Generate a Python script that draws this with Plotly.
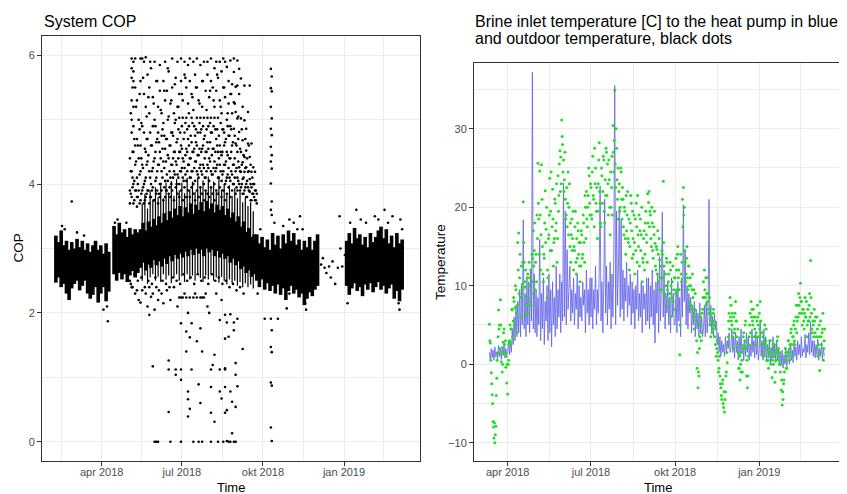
import pandas as pd
import plotly.graph_objects as go

BASE = pd.Timestamp("2018-01-01")  # day 0 for the day-number lists below

# ---------------- Left panel: System COP ----------------
# dense band of readings: per-day lower / upper edge (day number from 2018-01-01)
cop_band_day = [38, 41, 44, 47, 50, 53, 56, 59, 62, 65, 68, 71, 74, 77, 80, 83, 86, 89, 92, 95, 98,
                104, 107, 110, 113, 116, 119, 122, 125, 128, 131,
                134, 137, 140, 143, 146, 149, 152, 155, 158, 161, 164, 167, 170, 173, 176, 179, 182, 185,
                188, 191, 194, 197, 200, 203, 206, 209, 212, 215, 218, 221, 224, 227, 230, 233, 236, 239,
                242, 245, 248, 251, 254, 257, 260, 263,
                266, 269, 272, 275, 278, 281, 284, 287, 290, 293, 296, 299, 302, 305, 308, 311, 314, 317,
                320, 323, 326, 329, 332, 335,
                368, 371, 374, 377, 380, 383, 386, 389, 392, 395, 398, 401, 404, 407, 410, 413, 416, 419,
                422, 425, 428, 431]
cop_band_lo = [2.47, 2.55, 2.4, 2.45, 2.3, 2.2, 2.38, 2.45, 2.5, 2.35, 2.42, 2.5, 2.3, 2.22, 2.28, 2.4, 2.16, 2.3, 2.4, 2.18, 2.33,
               2.6, 2.5, 2.62, 2.52, 2.6, 2.48, 2.58, 2.65, 2.55, 2.62,
               2.7, 2.78, 2.66, 2.75, 2.7, 2.82, 2.74, 2.8, 2.72, 2.84, 2.76, 2.88, 2.8, 2.9, 2.84, 2.92, 2.86, 2.95,
               2.88, 2.98, 2.9, 3.0, 2.92, 2.98, 2.88, 3.0, 2.94, 2.98, 2.88, 2.96, 2.86, 2.92, 2.84, 2.88, 2.78, 2.84,
               2.74, 2.8, 2.68, 2.72, 2.62, 2.66, 2.56, 2.6,
               2.5, 2.4, 2.52, 2.36, 2.46, 2.34, 2.42, 2.3, 2.44, 2.28, 2.38, 2.2, 2.34, 2.42, 2.3, 2.36, 2.24, 2.3,
               2.12, 2.22, 2.32, 2.26, 2.36, 2.42,
               2.42, 2.28, 2.38, 2.46, 2.34, 2.4, 2.26, 2.44, 2.36, 2.46, 2.32, 2.4, 2.48, 2.36, 2.42, 2.3, 2.38, 2.44,
               2.22, 2.34, 2.18, 2.36]
cop_band_hi = [3.2, 3.1, 3.28, 3.05, 3.12, 2.98, 3.1, 3.0, 3.15, 3.02, 3.12, 2.98, 3.08, 2.95, 3.05, 3.12, 2.98, 3.05, 2.92, 3.08, 2.95,
               3.35, 3.22, 3.4, 3.25, 3.3, 3.18, 3.32, 3.22, 3.3, 3.25,
               3.3, 3.4, 3.28, 3.42, 3.34, 3.46, 3.36, 3.5, 3.4, 3.55, 3.44, 3.58, 3.48, 3.62, 3.52, 3.66, 3.5, 3.64,
               3.56, 3.7, 3.54, 3.68, 3.6, 3.72, 3.58, 3.74, 3.62, 3.7, 3.56, 3.68, 3.6, 3.66, 3.52, 3.62, 3.48, 3.56,
               3.42, 3.5, 3.34, 3.42, 3.26, 3.32, 3.18, 3.22,
               3.22, 3.08, 3.18, 3.02, 3.14, 2.98, 3.24, 3.06, 3.2, 3.0, 3.22, 3.08, 3.28, 3.12, 3.24, 3.06, 3.14, 2.98,
               3.12, 3.02, 3.18, 2.98, 3.12, 3.22,
               3.12, 3.24, 3.08, 3.32, 3.16, 3.22, 3.06, 3.18, 3.02, 3.24, 3.1, 3.18, 3.28, 3.34, 3.16, 3.3, 3.08, 3.2,
               3.02, 3.24, 3.08, 3.14]

# looser summer spread of readings around the band
cop_spread_day = [136, 139, 142, 145, 148, 151, 154, 157, 160, 163, 166, 169, 172, 175, 178, 181, 184, 187,
                  190, 193, 196, 199, 202, 205, 208, 211, 214, 217, 220, 223, 226, 229, 232, 235, 238, 241,
                  244, 247, 250, 253, 256, 259, 262]
cop_spread_lo = [2.5, 2.58, 2.45, 2.55, 2.6, 2.5, 2.56, 2.48, 2.6, 2.52, 2.58, 2.46, 2.55, 2.6, 2.5, 2.57, 2.48, 2.6,
                 2.52, 2.58, 2.5, 2.6, 2.54, 2.48, 2.58, 2.52, 2.6, 2.5, 2.55, 2.47, 2.56, 2.5, 2.44, 2.52, 2.46, 2.5,
                 2.42, 2.48, 2.4, 2.46, 2.4, 2.44, 2.38]
cop_spread_hi = [3.7, 3.85, 3.62, 3.9, 3.75, 3.95, 3.8, 3.98, 3.78, 4.02, 3.85, 4.05, 3.82, 4.08, 3.9, 4.02, 3.86, 4.1,
                 3.92, 4.04, 3.88, 4.1, 3.94, 4.06, 3.9, 4.12, 3.95, 4.04, 3.88, 4.08, 3.92, 4.0, 3.86, 3.98, 3.82, 3.94,
                 3.78, 3.88, 3.72, 3.8, 3.66, 3.72, 3.58]

# scattered summer readings (one row of COP values per day), even days
cop_cloud_day = list(range(122, 267, 2))
cop_cloud_vals = [
    [4.4, 3.9, 3.7, 2.5],
    [5.95, 5.8, 5.65, 5.3, 5.0, 4.8, 4.2, 3.8, 2.4],
    [5.9, 5.75, 5.6, 5.2, 4.9, 4.5, 4.0, 3.7],
    [5.95, 5.5, 4.6, 4.3, 3.9, 2.3],
    [5.3, 4.7, 4.1, 3.8, 3.65],
    [5.0, 4.4, 3.9, 2.2],
    [5.95, 5.6, 4.6, 4.2, 3.75, 2.16],
    [5.95, 4.9, 4.3, 3.9, 2.35],
    [5.9, 5.4, 4.8, 4.0, 3.7],
    [5.97, 5.2, 4.5, 4.1, 3.8, 2.3],
    [5.7, 4.7, 4.35, 3.9, 2.1],
    [5.5, 5.1, 4.2, 3.7, 1.97, 2.4],
    [5.8, 4.6, 4.0, 3.8, 2.25],
    [5.35, 4.9, 4.25, 3.95, 1.17, 2.3],
    [5.9, 5.0, 4.4, 3.75, 0.0, 2.05],
    [5.6, 4.65, 4.1, 3.85, 0.0, 2.4],
    [5.2, 4.8, 4.3, 3.7, 0.0, 2.2],
    [5.85, 5.45, 4.5, 4.0, 3.8],
    [5.1, 4.75, 4.2, 3.9, 2.3],
    [5.6, 4.95, 4.35, 3.75, 2.15],
    [5.9, 5.3, 4.55, 4.05, 3.8],
    [5.45, 4.7, 4.15, 3.9, 2.35],
    [5.75, 5.05, 4.4, 3.85, 1.26, 1.12, 0.46],
    [5.25, 4.6, 4.1, 3.8, 0.0, 2.2],
    [5.95, 5.5, 4.8, 4.3, 3.9],
    [5.1, 4.5, 4.2, 3.75, 2.4],
    [5.65, 5.0, 4.35, 3.95, 1.04, 1.12],
    [5.9, 5.2, 4.7, 4.15, 3.85, 2.1],
    [5.4, 5.03, 4.5, 4.0, 3.8, 2.24],
    [5.95, 5.6, 4.6, 4.2, 3.9, 1.84, 1.12, 0.96, 0.0, 2.24],
    [5.3, 5.03, 4.4, 4.1, 3.75, 2.24],
    [5.9, 5.7, 4.8, 4.25, 3.95, 2.3],
    [5.5, 5.03, 4.55, 4.05, 3.8, 1.71, 1.4, 2.24],
    [5.85, 5.25, 4.7, 4.3, 3.9, 0.78, 0.66, 0.39, 2.0],
    [5.95, 5.6, 4.4, 4.1, 3.8, 0.51, 1.62, 2.24],
    [5.4, 5.03, 4.65, 4.2, 3.95, 1.84, 1.12],
    [5.9, 5.15, 4.5, 4.0, 3.85, 0.0, 2.24],
    [5.7, 4.75, 4.35, 4.05, 3.75, 2.3],
    [5.95, 5.5, 5.03, 4.6, 4.2, 3.9, 1.56, 2.24],
    [5.3, 4.45, 4.1, 3.8, 0.89, 0.0],
    [5.85, 5.03, 4.8, 4.3, 3.95, 1.76, 0.6, 2.24],
    [5.6, 5.2, 4.55, 4.15, 3.85, 1.4, 0.0, 2.24],
    [5.9, 5.03, 4.7, 4.25, 4.0, 3.75, 2.24],
    [5.45, 4.5, 4.1, 3.9, 2.3],
    [5.9, 5.7, 5.03, 4.65, 4.3, 3.85, 2.1],
    [5.35, 4.4, 4.05, 3.8, 2.0],
    [5.95, 5.6, 5.03, 4.8, 4.2, 3.95, 0.85, 0.45, 1.12, 0.0],
    [5.5, 4.55, 4.15, 3.85, 1.19],
    [5.8, 5.2, 5.03, 4.35, 4.0, 3.75, 1.35, 0.31],
    [5.9, 5.45, 4.7, 4.25, 3.9, 2.3],
    [5.65, 5.03, 4.5, 4.1, 3.85, 0.0],
    [5.9, 5.3, 4.6, 4.3, 3.95, 1.89, 1.12, 0.78],
    [5.75, 5.1, 4.45, 4.05, 3.8, 0.67, 2.2],
    [5.95, 5.5, 4.85, 4.2, 3.9, 0.0],
    [5.9, 5.35, 4.65, 4.3, 4.0, 3.75, 1.97, 1.6, 0.85, 0.45, 1.12, 1.14],
    [5.82, 5.0, 4.5, 4.1, 3.85, 1.85, 0.49, 0.01],
    [5.6, 5.25, 4.75, 4.25, 3.95, 1.63, 0.0],
    [5.92, 5.4, 4.9, 4.4, 4.05, 3.8, 1.98, 0.78, 0.0],
    [5.55, 5.1, 4.6, 4.15, 3.9, 0.62, 0.13],
    [5.95, 5.74, 5.27, 4.86, 4.3, 4.0, 1.85, 1.73, 0.0],
    [5.51, 5.12, 4.63, 4.2, 3.85, 1.22, 1.04, 0.54, 0.0],
    [5.92, 5.53, 5.02, 4.5, 4.1, 3.9, 1.91, 0.86],
    [5.79, 5.4, 4.81, 4.26, 4.0],
    [5.64, 5.02, 4.5, 4.19, 3.95],
    [5.2, 4.68, 4.34, 4.08, 3.85, 1.44],
    [5.53, 4.99, 4.42, 4.19, 3.9],
    [4.86, 4.52, 4.26, 4.0, 3.8],
    [5.12, 4.63, 4.19, 3.95],
    [5.53, 4.42, 4.08, 3.88],
    [4.63, 4.19, 3.95, 3.75],
    [4.26, 4.0, 3.85],
    [4.19, 3.9, 3.75],
    [3.85, 3.7],
]

# scattered summer readings, odd days
cop_cloud2_day = list(range(123, 266, 2))
cop_cloud2_vals = [
    [4.2, 3.85, 5.1, 2.45], [4.5, 3.95, 5.5, 4.1], [4.05, 3.75, 4.7, 2.6], [4.35, 3.9, 5.2],
    [4.6, 4.0, 3.8, 2.5], [4.15, 3.7, 5.4, 4.85], [4.4, 3.85, 4.95, 2.55], [4.25, 3.95, 5.65],
    [4.55, 4.05, 3.75, 2.4], [4.3, 3.85, 5.05, 4.7], [4.45, 3.9, 5.35, 2.5], [4.1, 3.8, 4.8, 5.9],
    [4.6, 4.2, 3.9, 2.45], [4.35, 3.75, 5.25], [4.5, 4.05, 4.9, 2.55], [4.2, 3.9, 5.6, 4.7],
    [4.65, 4.3, 3.85, 2.35], [4.4, 4.0, 5.15], [4.55, 4.1, 4.85, 2.5], [4.25, 3.95, 5.45, 4.75],
    [4.7, 4.35, 3.9, 2.45], [4.45, 4.05, 5.0, 5.8], [4.6, 4.2, 3.95, 2.4], [4.3, 4.0, 5.3, 4.8],
    [4.75, 4.4, 4.1, 2.55], [4.5, 4.15, 5.55, 4.95], [4.65, 4.3, 4.0, 2.5], [4.4, 4.1, 5.2, 4.85],
    [4.8, 4.5, 4.2, 2.45], [4.55, 4.25, 5.4, 4.9], [4.7, 4.35, 4.05, 2.6], [4.45, 4.15, 5.65, 4.95],
    [4.85, 4.5, 4.2, 2.5], [4.6, 4.3, 5.1, 4.9], [4.75, 4.4, 4.1, 2.55], [4.5, 4.2, 5.35, 4.95],
    [4.9, 4.55, 4.25, 2.45], [4.65, 4.35, 5.5, 4.85], [4.8, 4.45, 4.15, 2.6], [4.55, 4.25, 5.25, 4.95],
    [4.85, 4.5, 4.2, 2.5], [4.6, 4.3, 5.6, 4.9], [4.75, 4.4, 4.1, 2.55], [4.5, 4.2, 5.15, 4.85],
    [4.9, 4.55, 4.25, 2.45], [4.65, 4.35, 5.45, 4.95], [4.8, 4.45, 4.15, 2.6], [4.55, 4.25, 5.3, 4.9],
    [4.85, 4.5, 4.2, 2.5], [4.6, 4.3, 5.7, 4.85], [4.75, 4.4, 4.1, 2.55], [4.5, 4.2, 5.2, 4.95],
    [4.85, 4.5, 4.15, 2.45], [4.6, 4.3, 5.5, 4.8], [4.7, 4.35, 4.05, 2.5], [4.45, 4.15, 5.1, 4.9],
    [4.75, 4.4, 4.1, 2.4], [4.5, 4.2, 5.4, 4.85], [4.65, 4.3, 4.0, 2.45], [4.4, 4.1, 5.25, 4.75],
    [4.6, 4.25, 3.95, 2.35], [4.35, 4.05, 5.05, 4.7], [4.55, 4.2, 3.9, 2.4], [4.3, 4.0, 4.85],
    [4.45, 4.1, 3.85, 2.3], [4.25, 3.95, 4.7], [4.4, 4.05, 3.8], [4.2, 3.9, 4.6],
    [4.3, 4.0, 3.75], [4.1, 3.85], [4.0, 3.8], [3.9, 3.75],
]

# other single readings (day number, COP)
cop_extra_day = [45, 48, 56, 62, 70, 92, 96, 97, 105, 108, 118, 125, 130,
                 282, 283, 282, 283, 282, 283, 282, 283, 282, 283, 282, 283, 282, 283, 282, 283,
                 282, 283, 282, 283, 282, 283, 282, 283, 275, 290,
                 267, 270, 286, 296, 300, 303, 303, 308, 312, 315, 318, 321, 322,
                 339, 341, 343, 345, 348, 350, 352, 355, 358, 360, 361, 363, 366,
                 369, 372, 379, 384, 390, 400, 404, 411, 415, 420, 427, 428, 429, 431]
cop_extra_val = [3.35, 3.3, 3.73, 3.25, 3.2, 2.05, 2.1, 1.87, 3.4, 3.45, 3.4, 2.4, 2.35,
                 5.79, 5.67, 5.49, 5.44, 5.2, 5.02, 4.86, 4.76, 4.58, 4.45, 4.35, 4.24, 4.01, 3.73, 3.6, 3.52,
                 1.91, 1.73, 1.47, 1.39, 0.92, 0.87, 0.22, 0.01, 1.91, 1.91,
                 2.3, 3.3, 3.4, 3.35, 2.07, 2.3, 3.45, 3.4, 3.3, 3.5, 3.3, 2.15, 2.05,
                 2.75, 2.85, 2.7, 2.62, 2.72, 2.55, 2.8, 2.45, 2.7, 3.5, 3.0, 2.72, 2.9,
                 2.15, 3.4, 3.6, 3.45, 3.4, 3.5, 3.45, 3.6, 3.4, 3.5, 2.15, 2.05, 3.45, 3.3]

# ---------------- Right panel: temperatures (daily, from 2018-03-12) ----------------
temp_start = "2018-03-12"
# outdoor temperature, first reading of each day
outdoor_2018_03 = [5.1, 2.7, -1.1, -3.9, -7.3, -9.4, -10.0, -7.9, -1.8, 1.4, 6.9, 5.0, 8.2, 0.3, -1.0, 2.8, 4.5, 1.5, -0.4, -2.4]
outdoor_2018_04 = [-3.8, 0.5, 3.0, 2.7, 4.5, 6.9, 5.5, 8.0, 7.2, 9.5, 4.0, 15.5, 16.7, 11.0, 8.5, 12.5, 10.2, 20.7, 13.0, 9.8,
                   6.5, 7.5, 11.5, 10.0, 8.0, 12.0, 9.0, 13.5, 17.0, 14.5]
outdoor_2018_05 = [9.5, 14.0, 19.0, 25.6, 18.5, 24.6, 12.0, 25.4, 15.0, 10.5, 13.5, 22.1, 17.2, 8.5, 11.0, 16.5, 23.7, 19.5,
                   14.5, 22.3, 12.5, 16.0, 20.5, 18.0, 13.0, 24.0, 21.5, 27.2, 26.4, 31.1, 28.0]
outdoor_2018_06 = [26.0, 23.5, 21.0, 19.0, 17.5, 24.5, 20.0, 15.0, 13.0, 18.5, 16.0, 12.0, 14.5, 19.5, 11.5, 13.5, 17.0, 15.5,
                   10.5, 12.5, 16.5, 14.0, 18.0, 13.0, 20.0, 22.0, 17.5, 21.5, 24.0, 19.0]
outdoor_2018_07 = [22.5, 18.5, 26.5, 21.0, 27.5, 25.0, 19.5, 16.0, 23.0, 28.2, 20.5, 17.5, 24.0, 22.0, 26.0, 18.0, 21.5, 27.0,
                   25.5, 19.0, 23.5, 16.5, 20.0, 26.5, 30.4, 24.5, 34.9, 22.5, 27.5, 21.0, 18.5]
outdoor_2018_08 = [23.0, 20.0, 24.5, 18.5, 21.0, 16.5, 19.5, 14.0, 17.0, 22.0, 15.5, 12.0, 18.0, 20.5, 13.5, 16.0, 19.0, 11.5,
                   14.5, 17.5, 21.5, 15.0, 12.5, 18.5, 16.5, 10.5, 13.0, 17.0, 14.0, 19.5, 15.5]
outdoor_2018_09 = [21.7, 20.6, 17.5, 19.0, 15.0, 18.0, 13.5, 16.5, 15.4, 12.0, 14.6, 17.0, 10.5, 13.3, 11.0, 9.5, 14.0, 23.3,
                   12.5, 8.5, 10.0, 13.0, 7.3, 11.5, 9.0, 12.0, 6.1, 10.5, 8.0, 11.0]
outdoor_2018_10 = [11.0, 13.5, 9.5, 15.0, 12.0, 1.2, 14.0, 10.5, 21.0, 22.5, 20.0, 13.0, 11.5, 15.0, 9.5, 12.5, 8.0, 10.0,
                   7.0, 11.5, 6.5, 4.5, 9.0, 5.5, -0.5, -3.0, -1.5, 3.5, 6.0, 4.0, 7.0]
outdoor_2018_11 = [10.5, 12.0, 8.5, 7.6, 11.0, 9.0, 6.5, 5.0, 3.5, 6.0, 4.5, 7.0, 5.5, 2.5, 1.0, 3.0, 0.5, -0.5,
                   -1.5, -3.0, -4.5, -2.0, -5.5, -6.1, -3.5, -1.0, 0.2, 3.5, 6.5, 8.5]
outdoor_2018_12 = [7.5, 5.0, 3.5, 6.0, 4.5, 8.0, 5.5, 2.5, 1.5, -0.5, -2.0, -1.0, 0.5, 2.0, 4.0, 3.0, 5.5, -1.5,
                   -3.0, 1.0, 3.5, 6.5, 8.0, 7.0, 5.0, 6.0, 4.5, 2.5, 3.5, 7.5, 5.0]
outdoor_2019_01 = [6.5, 8.0, 4.0, 2.5, 3.5, 1.0, 5.0, 3.0, 0.5, 2.0, -0.5, 1.5, 3.0, 0.0, -1.7, 2.5, 1.0, -2.3,
                   0.5, 1.8, 3.5, 2.0, 0.0, -1.0, -3.3, -5.2, -4.5, -2.0, 0.5, 1.5, -0.5]
outdoor_2019_02 = [1.5, 3.0, 0.5, 2.0, 4.5, 1.0, 3.5, 5.5, 2.5, 6.0, 4.0, 7.5, 9.0, 6.5, 10.3, 8.0, 5.0, 7.0,
                   4.5, 8.5, 6.0, 3.5, 7.0, 5.5, 9.0, 13.2, 6.5, 4.0]
outdoor_2019_03 = [5.0, 7.0, 4.0, 2.0, 6.0, 1.0, 3.5, -0.8, 5.5, 2.5, 4.5, 0.5, 3.0]

# outdoor temperature, second reading of each day (midday)
outdoor2_2018_03 = [3.0, 0.5, -2.5, -5.0, -8.0, -7.5, -9.0, -4.0, 0.5, 3.5, 4.5, 2.0, 5.0, 1.5, 0.0, 4.0, 2.5, 3.0, 1.0, 0.0]
outdoor2_2018_04 = [0.0, 2.5, 5.0, 4.5, 7.0, 3.5, 8.5, 5.0, 10.0, 6.5, 7.5, 12.0, 9.0, 14.0, 6.0, 9.5, 13.0, 15.5, 10.5, 12.0,
                    8.5, 11.0, 6.5, 13.0, 11.0, 7.5, 14.0, 10.5, 12.5, 18.0]
outdoor2_2018_05 = [13.0, 10.5, 16.0, 20.5, 14.0, 19.0, 16.5, 21.0, 11.5, 14.0, 18.0, 15.5, 20.0, 12.0, 16.0, 19.0, 14.5, 24.5,
                    17.5, 18.5, 15.5, 21.0, 17.0, 23.0, 16.0, 19.5, 25.5, 22.0, 23.0, 29.0, 24.5]
outdoor2_2018_06 = [22.0, 27.0, 18.5, 22.5, 20.5, 16.5, 23.0, 18.0, 16.5, 14.5, 19.5, 15.0, 17.5, 13.0, 16.0, 18.0, 14.0, 12.5,
                    15.5, 17.0, 13.5, 19.0, 15.5, 21.5, 16.0, 18.5, 20.0, 25.0, 20.5, 23.0]
outdoor2_2018_07 = [19.0, 24.5, 21.5, 17.5, 23.0, 20.5, 22.5, 19.5, 26.0, 22.0, 18.0, 25.0, 20.5, 26.5, 19.5, 23.5, 27.5, 21.5,
                    23.0, 26.0, 20.0, 24.5, 22.5, 19.0, 27.0, 28.5, 25.5, 30.0, 23.5, 25.0, 22.0]
outdoor2_2018_08 = [19.5, 25.0, 21.0, 22.5, 17.5, 20.0, 16.0, 21.5, 19.0, 16.0, 18.5, 15.0, 21.5, 17.0, 19.5, 14.0, 15.5, 18.5,
                    20.5, 13.0, 16.5, 19.0, 17.0, 14.5, 20.0, 13.5, 16.0, 12.0, 18.0, 16.5, 13.0]
outdoor2_2018_09 = [18.0, 22.0, 19.5, 16.0, 20.0, 14.5, 17.5, 19.5, 12.5, 15.0, 11.5, 14.0, 16.0, 9.5, 12.5, 14.5, 11.0, 15.5,
                    9.0, 11.5, 13.5, 9.5, 10.5, 8.0, 13.0, 10.0, 8.5, 12.5, 9.5, 7.0]
outdoor2_2018_10 = [9.0, 12.0, 14.0, 11.0, 9.5, 5.0, 11.5, 13.0, 17.5, 19.0, 14.5, 10.5, 13.5, 11.0, 12.5, 10.0, 11.0, 7.5,
                    9.5, 8.5, 9.5, 7.0, 6.0, 3.0, 1.5, -1.0, 2.0, 5.0, 3.0, 6.5, 8.5]
outdoor2_2018_11 = [8.5, 9.5, 11.0, 9.0, 8.0, 7.0, 8.5, 6.5, 5.5, 4.0, 6.5, 5.0, 3.5, 4.5, 2.0, 1.5, -1.0, 1.0,
                    -2.5, -4.0, -2.5, -5.0, -3.5, -4.5, -1.5, 1.5, 2.5, 5.5, 4.5, 6.0]
outdoor2_2018_12 = [5.5, 6.5, 2.0, 4.0, 6.5, 5.5, 3.5, 4.5, -0.5, 1.0, 0.0, 1.5, -1.0, 3.5, 2.5, 5.0, 2.0, 0.5,
                    -1.5, 2.5, 5.0, 4.0, 6.0, 5.5, 7.0, 3.5, 6.0, 4.0, 5.5, 6.0, 3.5]
outdoor2_2019_01 = [4.5, 5.5, 2.5, 4.0, 1.5, 3.0, 2.5, 4.5, 2.0, 0.5, 1.0, 3.0, 1.5, 2.0, 0.5, 0.0, 2.5, -1.0,
                    1.5, 3.0, 1.0, 0.5, 1.5, 0.0, -2.0, -3.5, -2.5, -1.0, 2.0, -0.5, 1.0]
outdoor2_2019_02 = [3.0, 1.5, 2.5, 4.0, 2.5, 3.5, 5.0, 3.0, 4.5, 7.5, 5.5, 6.0, 7.5, 8.5, 8.0, 6.5, 7.0, 5.5,
                    6.5, 6.0, 8.0, 5.0, 5.5, 7.5, 6.0, 8.5, 4.5, 5.5]
outdoor2_2019_03 = [3.5, 5.5, 6.0, 3.5, 4.5, 2.5, 5.0, 1.5, 3.5, 4.0, 6.5, 2.0, 4.5]

# brine inlet temperature (alternating low / high readings, one per day)
brine_2018_03 = [1.5, 0.6, 2.0, 0.8, 1.8, 0.5, 2.2, 0.9, 1.6, 0.7, 2.4, 1.0, 1.9, 0.6, 2.3, 1.1, 2.5, 0.8, 2.0, 1.2]
brine_2018_04 = [1.5, 3.0, 1.2, 2.8, 1.5, 4.5, 2.5, 6.0, 3.0, 7.5, 3.5, 8.0, 4.0, 9.5, 3.5, 10.0, 5.0, 18.4, 4.5, 9.0,
                 3.5, 11.0, 5.0, 10.5, 4.0, 12.0, 5.5, 37.2, 4.5, 11.5]
brine_2018_05 = [4.0, 9.5, 3.5, 8.5, 5.0, 15.9, 3.0, 9.0, 4.5, 11.0, 2.5, 8.0, 5.5, 10.0, 3.0, 11.5, 4.0, 9.5,
                 2.2, 10.5, 5.0, 8.5, 3.5, 12.5, 4.5, 9.5, 6.0, 11.5, 4.0, 10.5, 5.5]
brine_2018_06 = [23.1, 6.0, 19.5, 5.0, 14.6, 7.0, 10.5, 12.5, 5.5, 9.5, 6.5, 11.0, 5.0, 9.0, 7.0, 11.5, 4.5, 10.0,
                 6.0, 8.5, 5.5, 10.5, 7.5, 9.5, 4.0, 12.0, 6.5, 9.5, 5.0, 11.0]
brine_2018_07 = [6.0, 11.0, 4.5, 9.5, 7.0, 12.5, 5.0, 9.5, 6.5, 11.5, 22.7, 5.5, 10.5, 4.0, 10.0, 21.0, 6.5, 12.5,
                 5.0, 10.5, 7.0, 13.0, 4.5, 11.5, 6.0, 14.0, 35.5, 5.0, 19.5, 7.5, 12.0]
brine_2018_08 = [20.0, 6.0, 18.5, 7.0, 12.0, 5.5, 11.0, 8.0, 13.0, 6.0, 10.0, 7.5, 11.5, 5.0, 10.5, 6.5, 9.5, 4.5,
                 10.0, 7.0, 12.0, 5.5, 9.0, 6.0, 10.5, 4.0, 10.0, 7.0, 9.0, 5.0, 11.0]
brine_2018_09 = [5.5, 11.0, 4.5, 10.0, 6.0, 12.0, 5.0, 9.5, 2.7, 10.5, 6.5, 11.5, 4.0, 13.7, 5.5, 10.0, 19.4, 6.0,
                 12.0, 4.5, 9.0, 6.5, 10.5, 5.0, 8.5, 4.0, 11.0, 6.0, 9.0, 5.0]
brine_2018_10 = [5.0, 9.5, 4.0, 10.5, 5.5, 8.5, 3.5, 11.0, 6.0, 20.3, 8.0, 14.5, 5.0, 10.0, 4.5, 9.0, 6.5, 8.5,
                 4.0, 7.5, 5.0, 8.0, 3.5, 7.0, 4.5, 6.5, 3.6, 7.8, 4.0, 6.0, 3.5]
brine_2018_11 = [4.5, 7.5, 3.5, 8.0, 4.0, 6.5, 21.0, 5.0, 7.5, 4.0, 6.0, 3.5, 6.5, 4.5, 5.5, 2.5, 4.0, 1.5,
                 3.5, 1.0, 3.0, 1.5, 2.5, 1.0, 3.5, 1.5, 3.0, 2.0, 4.0, 1.5]
brine_2018_12 = [2.0, 4.5, 1.5, 3.5, 0.8, 4.0, 1.5, 3.0, 0.5, 3.5, 1.0, 4.5, 1.5, 2.5, 0.5, 3.0, 1.0, 4.0,
                 1.5, 3.5, 0.5, 2.5, 1.0, 4.5, 1.5, 3.0, 0.8, 4.0, 1.2, 3.5, 0.5]
brine_2019_01 = [2.0, 5.5, 1.0, 3.0, 0.5, 4.5, 1.0, 3.5, 0.3, 2.5, 1.0, 3.0, 0.0, 2.0, 0.5, 3.5, 0.8, 2.5,
                 0.2, 3.0, 0.5, 2.0, -0.2, 1.5, 0.0, 1.8, -0.5, 1.2, 0.0, 2.0, -0.3]
brine_2019_02 = [0.5, 2.0, 0.0, 2.5, 0.5, 1.8, 0.2, 2.8, 1.0, 2.2, 0.5, 3.0, 1.2, 2.5, 0.8, 3.5, 1.0, 2.0,
                 1.5, 3.8, 0.8, 2.5, 1.5, 4.0, 1.2, 5.4, 1.5, 3.0]
brine_2019_03 = [1.0, 3.0, 0.8, 2.5, 1.2, 3.2, 0.5, 2.0, 1.0, 2.8, 0.5, 2.2, 1.0]

x_tick_vals = ["2018-04-01", "2018-07-01", "2018-10-01", "2019-01-01"]
x_tick_text = ["apr 2018", "jul 2018", "okt 2018", "jan 2019"]
x_minor_vals = ["2018-02-14", "2018-05-16 12:00", "2018-08-16", "2018-11-16", "2019-02-15"]

# ---------------- build ----------------
def day(d):
    return BASE + pd.Timedelta(days=d)

def segments(days, lo, hi):
    xs, ys = [], []
    for d, a, b in zip(days, lo, hi):
        t = day(d)
        xs += [t, t, None]
        ys += [a, b, None]
    return xs, ys

def flatten(days, rows):
    xs, ys = [], []
    for d, vals in zip(days, rows):
        for v in vals:
            xs.append(day(d))
            ys.append(v)
    return xs, ys

outdoor = (outdoor_2018_03 + outdoor_2018_04 + outdoor_2018_05 + outdoor_2018_06 + outdoor_2018_07 +
           outdoor_2018_08 + outdoor_2018_09 + outdoor_2018_10 + outdoor_2018_11 + outdoor_2018_12 +
           outdoor_2019_01 + outdoor_2019_02 + outdoor_2019_03)
outdoor2 = (outdoor2_2018_03 + outdoor2_2018_04 + outdoor2_2018_05 + outdoor2_2018_06 + outdoor2_2018_07 +
            outdoor2_2018_08 + outdoor2_2018_09 + outdoor2_2018_10 + outdoor2_2018_11 + outdoor2_2018_12 +
            outdoor2_2019_01 + outdoor2_2019_02 + outdoor2_2019_03)
brine = (brine_2018_03 + brine_2018_04 + brine_2018_05 + brine_2018_06 + brine_2018_07 + brine_2018_08 +
         brine_2018_09 + brine_2018_10 + brine_2018_11 + brine_2018_12 + brine_2019_01 + brine_2019_02 +
         brine_2019_03)
temp_dates = pd.date_range(temp_start, periods=len(outdoor), freq="D")
temp2_dates = pd.date_range(temp_start + " 12:00", periods=len(outdoor2), freq="D")
brine_dates = pd.date_range(temp_start, periods=len(brine), freq="D")

c1x, c1y = flatten(cop_cloud_day, cop_cloud_vals)
c2x, c2y = flatten(cop_cloud2_day, cop_cloud2_vals)
cloud_x = c1x + c2x + [day(d) for d in cop_extra_day]
cloud_y = c1y + c2y + cop_extra_val

FONT = "Liberation Sans, Arial, sans-serif"
fig = go.Figure()

sx, sy = segments(cop_spread_day, cop_spread_lo, cop_spread_hi)
fig.add_trace(go.Scatter(x=sx, y=sy, mode="lines", line=dict(color="black", width=1.2),
                         xaxis="x", yaxis="y", hoverinfo="skip", showlegend=False))
bx, by = segments(cop_band_day, cop_band_lo, cop_band_hi)
fig.add_trace(go.Scatter(x=bx, y=by, mode="lines", line=dict(color="black", width=3.6),
                         xaxis="x", yaxis="y", hoverinfo="skip", showlegend=False))
fig.add_trace(go.Scatter(x=cloud_x, y=cloud_y, mode="markers",
                         marker=dict(color="black", size=2.6, line=dict(width=0)),
                         xaxis="x", yaxis="y", showlegend=False))

fig.add_trace(go.Scatter(x=brine_dates, y=brine, mode="lines",
                         line=dict(color="rgba(95,95,232,0.8)", width=1),
                         xaxis="x2", yaxis="y2", showlegend=False))
fig.add_trace(go.Scatter(x=list(temp_dates) + list(temp2_dates), y=outdoor + outdoor2, mode="markers",
                         marker=dict(color="#22DD22", size=3.0, line=dict(width=0)),
                         xaxis="x2", yaxis="y2", showlegend=False))

# page is drawn with an 8 px body margin: figure pixel = page pixel - 8
PAGE_W, PAGE_H, OFF = 847, 494, 8
W, H = PAGE_W - OFF, PAGE_H - OFF
def px(x):
    return (x - OFF) / W
def py(y):
    return (H - (y - OFF)) / H

axis_common = dict(showline=True, linecolor="#333333", linewidth=1, mirror=True,
                   ticks="outside", ticklen=4, tickwidth=1, tickcolor="#333333",
                   tickfont=dict(family=FONT, size=11, color="#4D4D4D"),
                   showgrid=True, gridcolor="#EBEBEB", gridwidth=1.1, zeroline=False)

fig.update_layout(
    width=W, height=H, autosize=False,
    margin=dict(l=0, r=0, t=0, b=0),
    paper_bgcolor="white", plot_bgcolor="white",
    font=dict(family=FONT, color="black"),
    xaxis=dict(domain=[px(42), px(420)], type="date",
               range=[day(22.24), day(451.25)],
               tickmode="array", tickvals=x_tick_vals, ticktext=x_tick_text, ticklabelstandoff=-3,
               minor=dict(tickmode="array", tickvals=x_minor_vals, showgrid=True,
                          gridcolor="#EBEBEB", gridwidth=0.6, ticks=""),
               anchor="y", **axis_common),
    yaxis=dict(domain=[py(461), py(36)], range=[-0.3, 6.3],
               tickmode="array", tickvals=[0, 2, 4, 6],
               minor=dict(tickmode="array", tickvals=[1, 3, 5], showgrid=True,
                          gridcolor="#EBEBEB", gridwidth=0.6, ticks=""),
               anchor="x", **axis_common),
    xaxis2=dict(domain=[px(474), px(842)], type="date",
                range=[day(53.17), day(455.4)],
                tickmode="array", tickvals=x_tick_vals, ticktext=x_tick_text, ticklabelstandoff=-3,
                minor=dict(tickmode="array", tickvals=x_minor_vals, showgrid=True,
                           gridcolor="#EBEBEB", gridwidth=0.6, ticks=""),
                anchor="y2", **axis_common),
    yaxis2=dict(domain=[py(461), py(63)], range=[-12.33, 38.37],
                tickmode="array", tickvals=[-10, 0, 10, 20, 30],
                minor=dict(tickmode="array", tickvals=[-5, 5, 15, 25, 35], showgrid=True,
                           gridcolor="#EBEBEB", gridwidth=0.6, ticks=""),
                anchor="x2", **axis_common),
)

ann = [
    dict(text="System COP", x=px(42), y=py(22), xanchor="left", size=16),
    dict(text="Brine inlet temperature [C] to the heat pump in blue", x=px(473), y=py(22),
         xanchor="left", size=16),
    dict(text="and outdoor temperature, black dots", x=px(473), y=py(38), xanchor="left", size=16),
    dict(text="Time", x=px(231), y=py(487), xanchor="center", size=13),
    dict(text="Time", x=px(658), y=py(487), xanchor="center", size=13),
]
for a in ann:
    fig.add_annotation(text=a["text"], x=a["x"], y=a["y"], xref="paper", yref="paper",
                       xanchor=a["xanchor"], yanchor="middle", showarrow=False,
                       font=dict(family=FONT, size=a["size"], color="black"))
fig.add_annotation(text="COP", x=px(18), y=py(248.5), xref="paper", yref="paper", textangle=-90,
                   xanchor="center", yanchor="middle", showarrow=False,
                   font=dict(family=FONT, size=13.5, color="black"))
fig.add_annotation(text="Temperature", x=px(441), y=py(262), xref="paper", yref="paper", textangle=-90,
                   xanchor="center", yanchor="middle", showarrow=False,
                   font=dict(family=FONT, size=13.5, color="black"))

fig.write_html("out.html")
